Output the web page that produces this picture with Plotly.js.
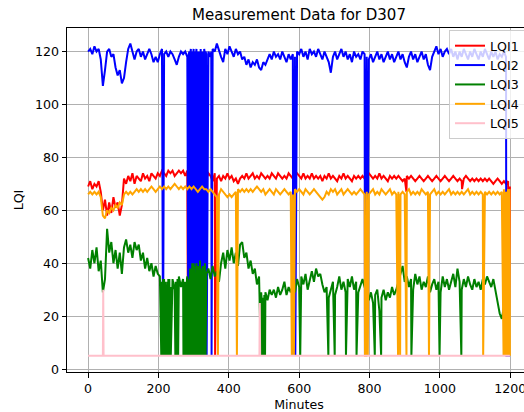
<!DOCTYPE html>
<html>
<head>
<meta charset="utf-8">
<script src="https://cdn.plot.ly/plotly-3.0.1.min.js"></script>
<style>
  html, body { margin: 0; padding: 0; overflow: hidden; background: #fff; }
  #chart { width: 531px; height: 412px; }
</style>
</head>
<body>
<div id="chart"></div>
<script>
// Link-quality readings for node D307, one base sample every STEP minutes.
const STEP = 6;
const seriesNames = ['LQI1', 'LQI2', 'LQI3', 'LQI4', 'LQI5'];
const seriesColors = ['red', 'blue', 'green', 'orange', 'pink'];
const xTicks = [0, 200, 400, 600, 800, 1000, 1200];
const yTicks = [0, 20, 40, 60, 80, 100, 120];

const lqi1Base = [
  69,71,68,70,69,71,67,
  60,64,58,63,59,65,61,63,58,62,
  72,70,73,71,74,70,73,72,71,74,72,73,71,74,73,72,74,
  73,75,74,73,75,74,75,73,74,75,74,75,73,75,
  74,72,74,73,75,72,74,73,72,74,73,71,74,72,73,71,
  73,72,74,72,73,71,72,70,72,73,72,74,72,73,74,72,73,
  72,74,73,72,73,72,74,73,72,74,73,72,73,72,74,73,72,73,74,73,
  72,74,72,73,72,74,72,73,72,73,71,73,72,74,72,73,72,71,73,72,74,72,73,72,71,73,72,73,72,73,72,73,74,
  73,72,73,72,74,72,73,72,71,73,72,73,72,73,72,71,72,73,72,73,72,71,72,73,72,71,72,73,72,71,72,73,72,
  71,72,73,72,71,72,73,72,71,72,71,72,73,72,71,72,71,72,71,72,71,72,71,72,71,70,71,72,71,70,71,70,71
];
const lqi1ExtraMin = [284, 361, 905, 1063, 1196, 1199];
const lqi1ExtraVal = [5, 5, 67, 68, 5, 69];

const lqi2Base = [
  120,121,119,122,120,121,117,107,113,120,
  121,118,119,114,111,113,108,110,116,121,
  123,120,117,120,121,118,120,117,119,121,
  119,116,118,116,119,121,119,120,118,120,
  119,117,115,118,120,119,120,118,120,119,
  121,118,120,117,120,121,119,120,118,121,
  120,123,120,118,116,121,119,122,120,118,
  121,119,120,117,118,115,117,114,116,115,
  117,114,113,116,115,117,119,117,120,118,
  119,117,120,118,116,119,117,119,118,120,
  119,121,118,120,117,121,119,120,118,121,
  119,117,120,118,116,112,118,120,117,119,
  121,118,120,117,119,116,120,118,119,117,
  120,119,118,117,119,116,118,120,117,119,
  116,118,120,117,119,116,118,120,117,119,
  116,114,118,120,117,119,116,118,120,117,
  119,115,113,118,120,122,119,121,118,120,
  121,119,121,118,120,117,120,118,121,119,
  117,120,118,121,119,117,120,118,121,119,
  117,120,118,120,117,119,118,120,118,5
];
const lqi2ExtraMin = [
  213,
  285,286,287,289,290,291,292,293,295,296,298,299,301,302,303,304,305,307,308,309,310,311,
  313,314,316,317,319,320,321,322,323,325,326,327,328,329,331,332,333,334,335,337,
  349,350,351, 583,589, 787,793, 1189,1199
];
const lqi2ExtraVal = [
  5,
  5,119,5,5,118,5,121,5,5,120,118,5,5,119,5,120,5,5,121,5,119,5,
  5,118,120,5,5,121,5,119,5,5,118,5,120,5,5,119,5,120,5,5,
  5,120,5, 5,5, 5,5, 5,5
];

const lqi3Base = [
  42,38,45,40,46,37,41,29,34,53,
  44,48,40,45,38,44,36,46,49,44,
  47,42,48,45,47,41,44,38,42,37,
  40,35,39,36,35,33,34,32,34,31,
  34,30,33,35,31,34,32,35,34,38,
  40,36,39,41,37,39,36,38,34,39,
  35,37,33,40,44,38,45,41,46,40,
  44,39,47,48,42,44,38,41,36,38,
  32,35,29,27,29,26,30,28,30,27,
  31,28,30,33,28,31,29,32,29,34,
  31,35,32,36,30,34,37,33,38,35,
  36,32,29,31,27,30,33,28,31,35,
  30,33,29,34,31,35,30,33,29,32,
  34,31,28,26,29,25,28,30,22,27,
  30,26,29,27,31,28,30,33,36,39,
  33,35,31,34,30,36,32,35,30,33,
  31,35,29,32,34,30,33,29,35,31,
  34,30,33,36,31,38,33,30,34,31,
  35,32,30,34,31,33,30,34,32,35,
  33,31,34,30,26,21,19,24,28,31
];
const lqi3ExtraMin = [
  208,209,211,213,214,215,217,219,220,221,223,225,226,227,229,231,232,233,235,
  248,249,250,251,253,254,256,
  271,272,273,275,277,278,279,281,283,
  289,290,292,293,295,296,298,299,301,302,304,305,307,308,310,311,313,314,316,317,319,320,322,323,325,326,328,329,331,332,334,
  491,493,495,497,499,501,503,
  603,683,701,733,763,815,833,919,999,1061,1199
];
const lqi3ExtraVal = [
  5,32,5,34,5,31,5,33,5,30,5,33,5,32,5,34,5,31,5,
  5,33,5,31,5,34,5,
  5,32,5,33,5,31,5,34,5,
  5,38,5,36,5,40,5,37,5,39,5,36,5,40,5,38,5,37,5,41,5,38,5,36,5,39,5,37,5,40,5,
  5,27,5,26,5,28,5,
  5,5,5,5,5,5,5,5,5,5,31
];

const lqi4Base = [
  66,67,66,67,66,67,65,58,57,60,
  59,61,60,62,61,63,62,66,67,66,
  67,66,67,68,67,68,67,68,67,68,
  69,68,67,68,69,68,69,68,69,68,
  69,70,69,68,69,68,69,68,69,68,
  69,68,67,68,69,68,68,67,68,67,
  66,65,66,68,67,66,65,66,65,66,
  67,68,67,68,67,68,67,68,67,68,
  69,68,67,68,66,67,68,67,66,68,
  67,66,67,68,67,66,67,66,68,67,
  68,67,66,68,67,66,67,68,67,66,
  65,64,65,67,66,68,67,68,66,67,
  68,66,67,68,67,66,67,66,67,68,
  67,66,67,66,67,68,66,67,66,68,
  67,66,67,68,66,67,66,67,66,67,
  66,67,68,66,67,66,67,66,68,67,
  66,67,66,67,68,66,67,66,67,66,
  67,68,66,67,66,67,66,67,66,67,
  68,66,67,66,67,66,67,66,67,66,
  67,66,67,66,67,66,67,68,67,68
];
const lqi4ExtraMin = [369, 423, 579, 585, 787, 791, 795, 881, 887, 905, 969, 1123,
  1181, 1184, 1185, 1186, 1187, 1189, 1190, 1191, 1192, 1193, 1195, 1196, 1197, 1198, 1199];
const lqi4ExtraVal = [5, 5, 5, 5, 5, 5, 5, 5, 5, 5, 5, 5,
  5, 5, 67, 5, 66, 5, 67, 5, 66, 5, 5, 67, 5, 68, 5];

const lqi5Min = [0, 42, 43, 44, 487, 488, 489, 1199];
const lqi5Val = [5, 5, 30, 5, 5, 25, 5, 5];

// Merge the regular samples with the extra readings (drop-outs etc.), sorted by minute.
function buildSeries(base, extraMin, extraVal) {
  const pts = new Map();
  base.forEach((v, i) => pts.set(i * STEP, v));
  extraMin.forEach((m, k) => pts.set(m, extraVal[k]));
  const xs = Array.from(pts.keys()).sort((a, b) => a - b);
  return { x: xs, y: xs.map(m => pts.get(m)) };
}

const built = [
  buildSeries(lqi1Base, lqi1ExtraMin, lqi1ExtraVal),
  buildSeries(lqi2Base, lqi2ExtraMin, lqi2ExtraVal),
  buildSeries(lqi3Base, lqi3ExtraMin, lqi3ExtraVal),
  buildSeries(lqi4Base, lqi4ExtraMin, lqi4ExtraVal),
  { x: lqi5Min, y: lqi5Val }
];

const traces = built.map((s, i) => ({
  type: 'scatter',
  mode: 'lines',
  name: seriesNames[i],
  x: s.x,
  y: s.y,
  line: { color: seriesColors[i], width: 2 }
}));

const FONT = 'DejaVu Sans, Verdana, sans-serif';

const axisCommon = {
  ticks: 'outside',
  ticklen: 4.5,
  tickwidth: 1,
  tickcolor: '#000',
  showline: true,
  linecolor: '#000',
  linewidth: 1,
  mirror: true,
  showgrid: true,
  gridcolor: '#b0b0b0',
  gridwidth: 1,
  zeroline: false,
  tickfont: { family: FONT, size: 12.6, color: '#000' }
};

const layout = {
  width: 531,
  height: 412,
  margin: { l: 67, r: 0, t: 28, b: 40, pad: 0 },
  paper_bgcolor: '#fff',
  plot_bgcolor: '#fff',
  font: { family: FONT, size: 12.6, color: '#000' },
  showlegend: true,
  title: {
    text: 'Measurement Data for D307',
    font: { family: FONT, size: 15, color: '#000' },
    x: 0.5, xref: 'paper', xanchor: 'center',
    y: 1 - 15 / 412, yref: 'container', yanchor: 'middle'
  },
  xaxis: Object.assign({}, axisCommon, {
    range: [-60, 1259],
    tickvals: xTicks,
    ticktext: xTicks.map(String),
    title: { text: 'Minutes', font: { family: FONT, size: 12.6, color: '#000' }, standoff: 6 }
  }),
  yaxis: Object.assign({}, axisCommon, {
    range: [-1.1, 128.9],
    tickvals: yTicks,
    ticktext: yTicks.map(String),
    title: { text: 'LQI', font: { family: FONT, size: 12.6, color: '#000' }, standoff: 8 }
  }),
  legend: {
    x: 458 / 464, xanchor: 'right',
    y: 1 - 2 / 344, yanchor: 'top',
    bgcolor: 'rgba(255,255,255,0.8)',
    bordercolor: '#cccccc',
    borderwidth: 1,
    font: { family: FONT, size: 12.6, color: '#000' },
    itemwidth: 30
  }
};

Plotly.newPlot('chart', traces, layout, { staticPlot: true, displayModeBar: false });
</script>
</body>
</html>
